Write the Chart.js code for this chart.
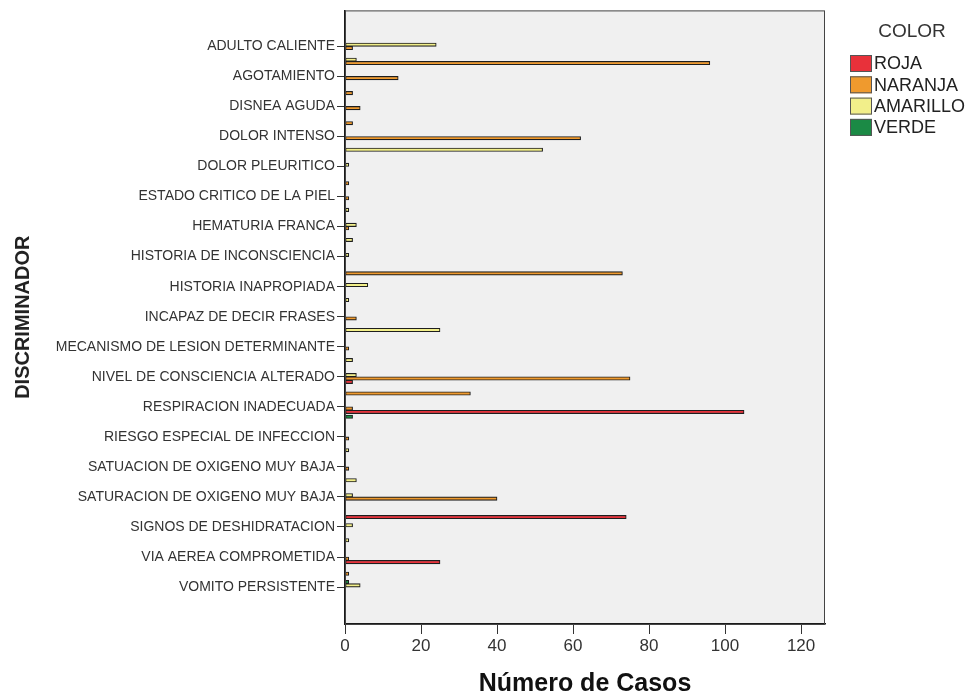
<!DOCTYPE html>
<html>
<head>
<meta charset="utf-8">
<script src="https://cdn.jsdelivr.net/npm/chart.js@4/dist/chart.umd.min.js"></script>
<style>
  html, body { margin: 0; padding: 0; background: #fff; }
</style>
</head>
<body>
<canvas id="grafico" width="971" height="695"></canvas>
<script>
// Filas del grafico (SPSS solo rotula una de cada dos filas)
const discriminadores = [
    'ADULTO CALIENTE', '', 'AGOTAMIENTO', '', 'DISNEA AGUDA', '',
    'DOLOR INTENSO', '', 'DOLOR PLEURITICO', '', 'ESTADO CRITICO DE LA PIEL', '',
    'HEMATURIA FRANCA', '', 'HISTORIA DE INCONSCIENCIA', '', 'HISTORIA INAPROPIADA', '',
    'INCAPAZ DE DECIR FRASES', '', 'MECANISMO DE LESION DETERMINANTE', '',
    'NIVEL DE CONSCIENCIA ALTERADO', '', 'RESPIRACION INADECUADA', '',
    'RIESGO ESPECIAL DE INFECCION', '', 'SATUACION DE OXIGENO MUY BAJA', '',
    'SATURACION DE OXIGENO MUY BAJA', '', 'SIGNOS DE DESHIDRATACION', '',
    'VIA AEREA COMPROMETIDA', '', 'VOMITO PERSISTENTE', ''
];

// Numero de casos por color (una posicion por fila)
const roja     = [0, 0, 0, 0, 0, 0, 0, 0, 0, 0, 0, 0, 0, 0, 0, 0, 0, 0, 0, 0, 0, 0, 2, 0, 105, 0, 0, 0, 0, 0, 0, 74, 0, 0, 25, 0, 0, 0];
const naranja  = [2, 96, 14, 2, 4, 2, 62, 0, 0, 1, 1, 0, 1, 0, 0, 73, 0, 0, 3, 0, 1, 0, 75, 33, 2, 0, 1, 0, 1, 0, 40, 0, 0, 0, 1, 1, 0, 0];
const amarillo = [24, 3, 0, 0, 0, 0, 0, 52, 1, 0, 0, 1, 3, 2, 1, 0, 6, 1, 0, 25, 0, 2, 3, 0, 0, 0, 0, 1, 0, 3, 2, 0, 2, 1, 0, 0, 4, 0];
const verde    = [0, 0, 0, 0, 0, 0, 0, 0, 0, 0, 0, 0, 0, 0, 0, 0, 0, 0, 0, 0, 0, 0, 0, 0, 0, 2, 0, 0, 0, 0, 0, 0, 0, 0, 0, 0, 1, 0];

const colores = ['ROJA', 'NARANJA', 'AMARILLO', 'VERDE'];
const ticksX = [0, 20, 40, 60, 80, 100, 120];

const fuente = '"Liberation Sans", Arial, sans-serif';

// convierte una serie en puntos {x, y}, sin las barras vacias
function serie(valores) {
    return valores.map((v, i) => ({ x: v, y: i })).filter(p => p.x > 0);
}

// fondo gris del area de trazado y marco
const fondoPlugin = {
    id: 'fondo',
    beforeDraw(chart) {
        const { ctx, chartArea } = chart;
        ctx.save();
        ctx.fillStyle = '#ffffff';
        ctx.fillRect(0, 0, chart.width, chart.height);
        ctx.fillStyle = '#f0f0f0';
        ctx.fillRect(chartArea.left, chartArea.top, chartArea.right - chartArea.left, chartArea.bottom - chartArea.top);
        ctx.restore();
    },
    afterDraw(chart) {
        const { ctx, chartArea } = chart;
        ctx.save();
        ctx.strokeStyle = '#444';
        ctx.lineWidth = 1;
        ctx.strokeRect(chartArea.left + 0.5, chartArea.top + 0.5, chartArea.right - chartArea.left - 1, chartArea.bottom - chartArea.top);
        ctx.restore();
    }
};

// leyenda al estilo SPSS
const leyendaPlugin = {
    id: 'leyendaColor',
    afterDraw(chart) {
        const ctx = chart.ctx;
        ctx.save();
        ctx.fillStyle = '#333';
        ctx.font = '19px ' + fuente;
        ctx.textAlign = 'center';
        ctx.textBaseline = 'middle';
        ctx.fillText('COLOR', 912, 32);
        ctx.textAlign = 'left';
        ctx.font = '18px ' + fuente;
        chart.data.datasets.forEach((ds, i) => {
            const y = 63.5 + i * 21.3;
            ctx.fillStyle = ds.backgroundColor;
            ctx.fillRect(850, y - 8.5, 22, 17);
            ctx.strokeStyle = '#555';
            ctx.lineWidth = 1;
            ctx.strokeRect(850.5, y - 8, 21, 16);
            ctx.fillStyle = '#222';
            ctx.fillText(ds.label, 874, y + 1);
        });
        ctx.restore();
    }
};

const relleno = ['#e8313a', '#ef9a2e', '#f2ef8a', '#1b8a45'];
const series = [roja, naranja, amarillo, verde];

const datasets = colores.map((nombre, i) => ({
    label: nombre,
    data: serie(series[i]),
    backgroundColor: relleno[i],
    borderColor: '#1e1e1e',
    borderWidth: 1.1,
    borderSkipped: false,
    barThickness: 3.4,
    order: 4 - i
}));

const filasConRotulo = discriminadores.map((t, i) => i).filter(i => discriminadores[i] !== '');

new Chart(document.getElementById('grafico'), {
    type: 'bar',
    data: { datasets: datasets },
    options: {
        responsive: false,
        animation: false,
        indexAxis: 'y',
        layout: { padding: { top: 10, right: 146, left: 0, bottom: 0 } },
        plugins: {
            legend: { display: false },
            tooltip: { enabled: false }
        },
        scales: {
            y: {
                type: 'linear',
                reverse: true,
                offset: false,
                min: -2.395,
                max: 38.46,
                afterBuildTicks: (scale) => {
                    scale.ticks = filasConRotulo.map(v => ({ value: v }));
                },
                afterFit: (scale) => { scale.width = 345; },
                grid: { offset: false, drawOnChartArea: false, drawTicks: true, tickLength: 8, color: '#333' },
                border: { display: true, color: '#1a1a1a', width: 1.6 },
                ticks: {
                    autoSkip: false,
                    padding: 2,
                    color: '#333',
                    font: { size: 14, family: fuente },
                    callback: (value) => discriminadores[value]
                },
                title: {
                    display: true,
                    text: 'DISCRIMINADOR',
                    color: '#222',
                    font: { size: 20, weight: 'bold', family: fuente },
                    padding: { top: 11, bottom: 0 }
                }
            },
            x: {
                type: 'linear',
                min: 0,
                max: 126.3,
                afterBuildTicks: (scale) => {
                    scale.ticks = ticksX.map(v => ({ value: v }));
                },
                afterFit: (scale) => { scale.height = 71; },
                grid: { drawOnChartArea: false, drawTicks: true, tickLength: 10, color: '#333' },
                border: { display: true, color: '#1a1a1a', width: 1.6 },
                ticks: {
                    padding: 2,
                    color: '#333',
                    font: { size: 17, family: fuente }
                },
                title: {
                    display: true,
                    text: 'Número de Casos',
                    color: '#111',
                    font: { size: 25, weight: 'bold', family: fuente, lineHeight: 0.85 },
                    padding: { top: 0, bottom: 0 }
                }
            }
        }
    },
    plugins: [fondoPlugin, leyendaPlugin]
});
</script>
</body>
</html>
